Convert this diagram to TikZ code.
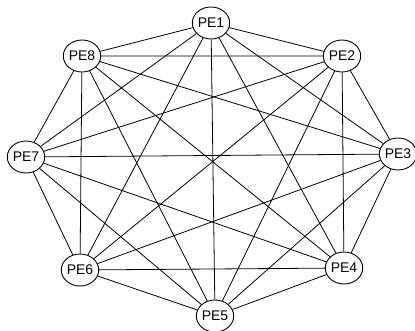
\documentclass[tikz,border=0pt]{standalone}
\usepackage{fontspec}
\setmainfont{Liberation Sans}
\usetikzlibrary{shapes.geometric}

\begin{document}
\begin{tikzpicture}[
    x=1pt, y=-1pt,
    pe/.style={ellipse, draw=black, fill=white, line width=0.9pt, inner sep=0pt,
               minimum width=36pt, minimum height=32pt, font=\fontsize{14}{14}\selectfont},
    link/.style={black, line width=0.8pt}
  ]
    \useasboundingbox (0,0) rectangle (415,331);
    \node[pe] (pe1) at (211,23) {PE1};
    \node[pe] (pe2) at (342,56) {PE2};
    \node[pe] (pe3) at (398,154) {PE3};
    \node[pe] (pe4) at (344,268) {PE4};
    \node[pe] (pe5) at (215,316) {PE5};
    \node[pe] (pe6) at (80,270) {PE6};
    \node[pe] (pe7) at (26,157) {PE7};
    \node[pe] (pe8) at (82,56) {PE8};
    % every PE linked to every other PE
    \draw[link] (pe1) -- (pe2) (pe1) -- (pe3) (pe1) -- (pe4) (pe1) -- (pe5)
                (pe1) -- (pe6) (pe1) -- (pe7) (pe1) -- (pe8);
    \draw[link] (pe2) -- (pe3) (pe2) -- (pe4) (pe2) -- (pe5) (pe2) -- (pe6)
                (pe2) -- (pe7) (pe2) -- (pe8);
    \draw[link] (pe3) -- (pe4) (pe3) -- (pe5) (pe3) -- (pe6) (pe3) -- (pe7)
                (pe3) -- (pe8);
    \draw[link] (pe4) -- (pe5) (pe4) -- (pe6) (pe4) -- (pe7) (pe4) -- (pe8);
    \draw[link] (pe5) -- (pe6) (pe5) -- (pe7) (pe5) -- (pe8);
    \draw[link] (pe6) -- (pe7) (pe6) -- (pe8);
    \draw[link] (pe7) -- (pe8);
\end{tikzpicture}
\end{document}
